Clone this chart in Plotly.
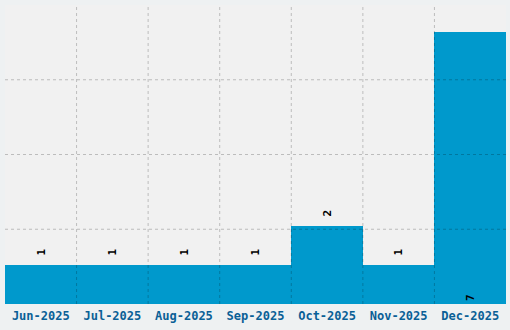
import plotly.graph_objects as go

months = ["Jun-2025", "Jul-2025", "Aug-2025", "Sep-2025", "Oct-2025", "Nov-2025", "Dec-2025"]
counts = [1, 1, 1, 1, 2, 1, 7]

ymax = max(counts) * 1.1
positions = ["outside"] * (len(counts) - 1) + ["inside"]
labels = [" " + str(c) if p == "outside" else str(c) for c, p in zip(counts, positions)]

lblfont = dict(family="DejaVu Sans Mono", size=11, color="#000000", weight="bold")
fig = go.Figure(go.Bar(
    x=months, y=counts,
    marker=dict(color="#0099cc", line=dict(width=0)),
    text=labels,
    textposition=positions,
    insidetextanchor="start",
    textangle=-90,
    textfont=lblfont,
    insidetextfont=lblfont,
    outsidetextfont=lblfont,
    cliponaxis=False,
))

shapes = []
grid = dict(color="rgba(0,0,0,0.22)", width=1, dash="3px,3px")
for k in range(1, 4):
    shapes.append(dict(type="line", xref="paper", yref="y", x0=0, x1=1,
                       y0=ymax * k / 4, y1=ymax * k / 4, line=grid, layer="above"))
for i in range(len(months) - 1):
    shapes.append(dict(type="line", xref="x", yref="paper", x0=i + 0.5, x1=i + 0.5,
                       y0=0, y1=1, line=grid, layer="above"))

fig.update_layout(
    width=510, height=330,
    margin=dict(l=5, r=4, t=5, b=26),
    paper_bgcolor="#eef1f2",
    plot_bgcolor="#f1f1f1",
    bargap=0,
    showlegend=False,
    shapes=shapes,
    xaxis=dict(showgrid=False, zeroline=False, showline=False, ticks="",
               ticklabelstandoff=3,
               tickfont=dict(family="DejaVu Sans Mono", size=12, color="#0a6096", weight="bold")),
    yaxis=dict(range=[0, ymax], showgrid=False, zeroline=False, showticklabels=False, ticks=""),
)

fig.write_html("out.html")
